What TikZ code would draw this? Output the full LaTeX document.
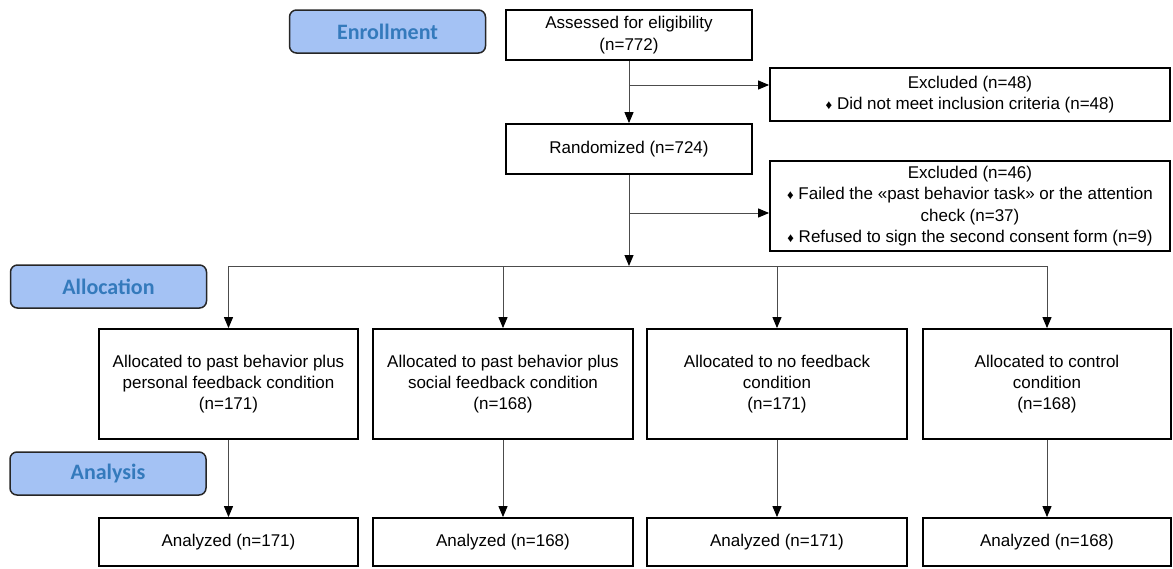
\documentclass[tikz,border=0pt]{standalone}
\usepackage{fontspec}
\setmainfont{Liberation Sans}
\newfontfamily\labelfont{Carlito}
\usepackage{tikz}
\usetikzlibrary{arrows.meta, positioning, shapes}
\definecolor{stagefill}{RGB}{164,194,244}
\definecolor{stagetext}{RGB}{52,122,188}
\tikzstyle{arrow} = [draw=black!70, line width=1pt, -{Triangle[length=11pt,width=9pt,color=black]}]
\tikzstyle{line} = [draw=black!70, line width=1pt]
\newcommand{\dmd}{{\fontsize{13}{13}\selectfont ♦}}
\tikzset{stage/.style={
    draw=black!85, line width=1.5pt, fill=stagefill, rounded corners=7pt,
    minimum width=196pt, minimum height=43pt,
    text=stagetext, font=\labelfont\bfseries\fontsize{22}{22}\selectfont,
  },
  box/.style={
    draw=black, line width=1.8pt, align=center, inner sep=0pt,
    font=\fontsize{17}{21.3}\selectfont,
  },
}

\begin{document}
\begin{tikzpicture}[x=1pt, y=-1pt]
    \useasboundingbox (0,0) rectangle (1173,568);

    % stage labels
    \node[stage] (enroll) at (387.5,31.5) {Enrollment};
    \node[stage] (alloc) at (108.5,286.5) {Allocation};
    \node[stage] (analysis) at (108,473.5) {Analysis};

    \node[box, minimum width=246pt, minimum height=50pt] (assess) at (629,35) {Assessed for eligibility\\(n=772)};
    \node[box, minimum width=400pt, minimum height=53pt] (excl1) at (970,94.5) {Excluded (n=48)\\\dmd{} Did not meet inclusion criteria (n=48)};
    \node[box, minimum width=246pt, minimum height=50pt] (rand) at (629,149) {Randomized (n=724)};
    \node[box, minimum width=400pt, minimum height=90pt] (excl2) at (970,206) {Excluded (n=46)\\\dmd{} Failed the «past behavior task» or the attention\\check (n=37)\\\dmd{} Refused to sign the second consent form (n=9)};

    % allocated groups
    \node[box, minimum width=259pt, minimum height=110pt] (c1) at (228.5,384) {Allocated to past behavior plus\\personal feedback condition\\(n=171)};
    \node[box, minimum width=260pt, minimum height=110pt] (c2) at (503,384) {Allocated to past behavior plus\\social feedback condition\\(n=168)};
    \node[box, minimum width=260pt, minimum height=110pt] (c3) at (777,384) {Allocated to no feedback\\condition\\(n=171)};
    \node[box, minimum width=248pt, minimum height=110pt] (c4) at (1047,384) {Allocated to control\\condition\\(n=168)};

    \node[box, minimum width=259pt, minimum height=48pt] (a1) at (228.5,542) {Analyzed (n=171)};
    \node[box, minimum width=260pt, minimum height=48pt] (a2) at (503,542) {Analyzed (n=168)};
    \node[box, minimum width=260pt, minimum height=48pt] (a3) at (777,542) {Analyzed (n=171)};
    \node[box, minimum width=248pt, minimum height=48pt] (a4) at (1047,542) {Analyzed (n=168)};

    \coordinate (b1) at (629,85);
    \coordinate (b2) at (629,213);
    \coordinate (split) at (629,266);

    \draw[arrow] (assess) -- (rand);
    \draw[arrow] (b1) -- (b1 -| excl1.west);
    \draw[arrow] (rand) -- (split);
    \draw[arrow] (b2) -- (b2 -| excl2.west);
    \draw[line] (c1.north |- split) -- (c4.north |- split);
    \foreach \i in {1,...,4} {
        \draw[arrow] (c\i.north |- split) -- (c\i.north);
        \draw[arrow] (c\i) -- (a\i);
    }
\end{tikzpicture}
\end{document}
